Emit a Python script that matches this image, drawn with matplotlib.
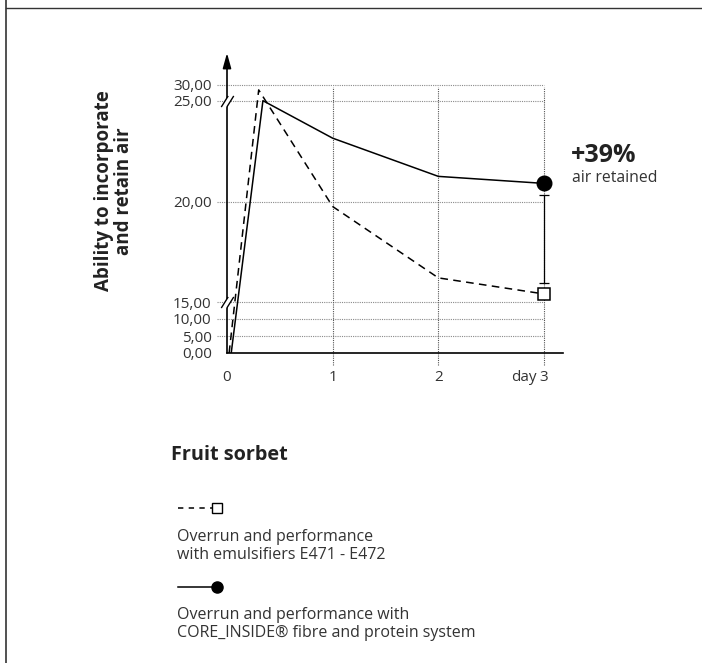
import matplotlib
matplotlib.use("Agg")
import matplotlib.pyplot as plt
import numpy as np
from matplotlib.lines import Line2D
from matplotlib.path import Path

plt.rcParams['font.family'] = ['Open Sans', 'DejaVu Sans']

# data
days_ticks = [0, 1, 2, 3]
day_labels = ['0', '1', '2', '3']
y_ticks = [0, 5, 10, 15, 20, 25, 30]
y_labels = ['0,00', '5,00', '10,00', '15,00', '20,00', '25,00', '30,00']

days_emuls = [0.02, 0.30, 1, 2, 3]
overrun_emuls = [0, 28.4, 19.75, 16.2, 15.4]
days_core = [0.04, 0.34, 1, 2, 3]
overrun_core = [0, 25.1, 23.15, 21.25, 20.9]
gap_range = [15.95, 20.3]
breaks = [15, 25]

# broken y axis: 0-15 and 25-30 squeezed, 15-25 stretched
brk_v = [-10, 0, 15, 25, 30, 50]
brk_p = [-34, 0, 51, 252, 268.3, 334.3]

def fwd(v):
    return np.interp(v, brk_v, brk_p)

def inv(p):
    return np.interp(p, brk_p, brk_v)

W, H = 702, 663
fig = plt.figure(figsize=(W / 100, H / 100), dpi=100)
ax = fig.add_axes([227 / W, (H - 353) / H, (563 - 227) / W, 300 / H])
ax.set_yscale('function', functions=(fwd, inv))
ax.set_xlim(0, 3 + 19 / 105.7)
ax.set_ylim(0, inv(300))

grey = '#8a8a8a'
txt = '#333333'

# grid
for v in y_ticks[1:]:
    ax.plot([-0.095, 3], [v, v], ls=(0, (1, 1)), lw=0.8, color=grey, clip_on=False, zorder=1)
for d in days_ticks[1:]:
    ax.plot([d, d], [-3.6, 29.4], ls=(0, (1, 1)), lw=0.8, color='#555555', clip_on=False, zorder=1)

# series
ax.plot(days_emuls, overrun_emuls, color='black', lw=1.1, ls=(0, (5, 3.5)),
        marker='s', markevery=[-1], ms=9, mfc='white', mec='black', mew=1.1, zorder=4)
ax.plot(days_core, overrun_core, color='black', lw=1.1,
        marker='o', markevery=[-1], ms=10.5, mfc='black', zorder=4)
ax.plot([3, 3], gap_range, color='black', lw=0.9, marker='_', ms=7, mew=0.9, zorder=3)

# axes
for s in ['top', 'right', 'left']:
    ax.spines[s].set_visible(False)
ax.spines['bottom'].set_linewidth(1.2)
ax.annotate('', xy=(0, 1), xytext=(0, 0), xycoords='axes fraction',
            arrowprops=dict(arrowstyle='-|>,head_length=0.9,head_width=0.25',
                            lw=1.2, color='black', shrinkA=0, shrinkB=0))

# break marks on y axis
slash = Path([(-0.9, -0.8), (0.1, 0.8), (-0.1, -0.8), (0.9, 0.8)],
             [Path.MOVETO, Path.LINETO, Path.MOVETO, Path.LINETO])
patch = Path([(-0.9, -0.8), (0.1, 0.8), (0.9, 0.8), (-0.1, -0.8), (-0.9, -0.8)])
ax.plot([0] * len(breaks), breaks, ls='none', marker=patch, ms=9, mfc='white',
        mew=0, clip_on=False, zorder=5)
ax.plot([0] * len(breaks), breaks, ls='none', marker=slash, ms=9, mec='black',
        mew=1.0, clip_on=False, zorder=6)

ax.set_yticks(y_ticks)
ax.set_yticklabels(y_labels)
ax.set_xticks(days_ticks)
ax.set_xticklabels(day_labels)
ax.tick_params(axis='y', length=0, pad=11, labelsize=11, labelcolor=txt)
ax.tick_params(axis='x', length=0, pad=12, labelsize=11, labelcolor=txt)
ax.annotate('day', xy=(3, 0), xytext=(-5, -12), textcoords='offset points',
            ha='right', va='top', fontsize=11, color=txt, annotation_clip=False)

# y label
fig.text(114 / W, 1 - 191 / H, 'Ability to incorporate\nand retain air', rotation=90,
         ha='center', va='center', ma='center', fontsize=13.5, fontweight='bold',
         color='#222222', linespacing=1.0)

# callout
fig.text(571 / W, 1 - 155 / H, '+39%', ha='left', va='center', fontsize=18,
         fontweight='bold', color='#222222')
fig.text(572 / W, 1 - 178 / H, 'air retained', ha='left', va='center', fontsize=11.3,
         color=txt)

# legend block
fig.text(171 / W, 1 - 455 / H, 'Fruit sorbet', ha='left', va='center', fontsize=14.3,
         fontweight='bold', color='#222222')
fig.add_artist(Line2D([178 / W, 212 / W], [1 - 508 / H] * 2, color='black', lw=1.1,
                      ls=(0, (3.5, 3.5))))
fig.add_artist(Line2D([217 / W], [1 - 508 / H], marker='s', ms=7.5, mfc='white',
                      mec='black', mew=1.0))
fig.text(177 / W, 1 - 546 / H, 'Overrun and performance\nwith emulsifiers E471 - E472',
         ha='left', va='center', fontsize=11.5, color=txt, linespacing=1.1)
fig.add_artist(Line2D([178 / W, 216 / W], [1 - 587 / H] * 2, color='black', lw=1.1))
fig.add_artist(Line2D([217 / W], [1 - 587 / H], marker='o', ms=8, mfc='black',
                      mec='black'))
fig.text(177 / W, 1 - 624 / H,
         'Overrun and performance with\nCORE_INSIDE\u00ae fibre and protein system',
         ha='left', va='center', fontsize=11.5, color=txt, linespacing=1.1)

# page frame
fig.add_artist(Line2D([6 / W, 1], [1 - 8 / H] * 2, color='#333333', lw=1.0))
fig.add_artist(Line2D([6 / W] * 2, [0, 1], color='#333333', lw=1.2))

fig.savefig('out.png', dpi=100)
